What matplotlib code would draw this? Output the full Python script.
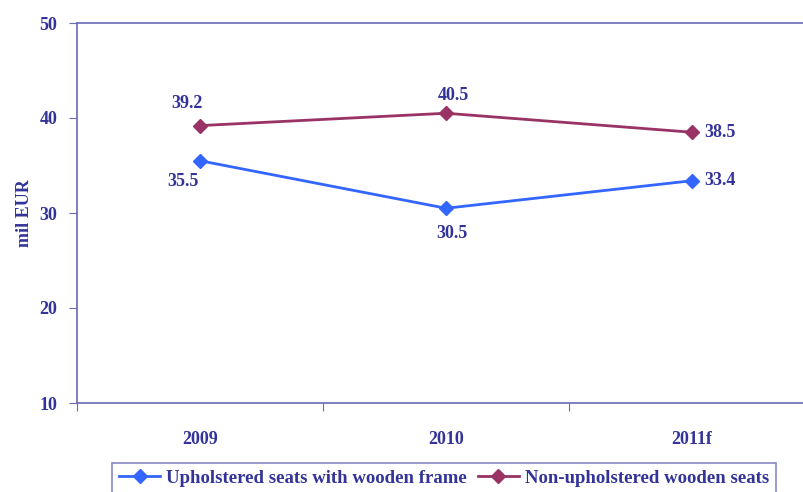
import matplotlib
matplotlib.use("Agg")
import matplotlib.pyplot as plt

categories = ["2009", "2010", "2011f"]
upholstered = [35.5, 30.5, 33.4]
non_upholstered = [39.2, 40.5, 38.5]
series_names = ["Upholstered seats with wooden frame", "Non-upholstered wooden seats"]

TXT = "#333399"
AX = "#6a6ab8"
plt.rcParams['font.family'] = ['Liberation Serif', 'DejaVu Serif']

fig = plt.figure(figsize=(8.04, 4.92), dpi=100)
ax = fig.add_axes([77/804, 1-403/492, (815-77)/804, 380/492])

x = [0.5, 1.5, 2.5]
ax.plot(x, upholstered, color="#3366ff", lw=2, marker="D", ms=7, label=series_names[0])
ax.plot(x, non_upholstered, color="#993366", lw=2, marker="D", ms=7, label=series_names[1])

ax.set_xlim(0, 3)
ax.set_ylim(10, 50)
ax.set_yticks([10, 20, 30, 40, 50])
ax.set_xticks([0, 1, 2, 3])
ax.set_xticklabels([])
ax.set_xticks(x, minor=True)
ax.set_xticklabels(categories, minor=True)
ax.tick_params(axis='x', which='minor', length=0, pad=20, labelsize=13, labelcolor=TXT)
ax.tick_params(axis='x', which='major', length=6, color=AX, direction='out')
ax.tick_params(axis='y', length=6, color=AX, direction='out', labelsize=13, labelcolor=TXT, pad=8)
for lab in ax.get_xticklabels(minor=True) + ax.get_yticklabels():
    lab.set_fontweight('bold')

ax.spines['right'].set_visible(False)
for s in ['left', 'bottom', 'top']:
    ax.spines[s].set_color(AX)
    ax.spines[s].set_linewidth(1.2)

ax.set_ylabel("mil EUR", fontsize=13, fontweight='bold', color=TXT, labelpad=5)

kw = dict(fontsize=13, fontweight='bold', color=TXT)
offs_u = [(-12, -15, 'center'), (4, -18, 'center'), (9, 0, 'left')]
offs_n = [(-9, 16, 'center'), (5, 13, 'center'), (9, 0, 'left')]
for xi, v, (dx, dy, ha) in zip(x, upholstered, offs_u):
    ax.annotate(f"{v:.1f}", (xi, v), xytext=(dx, dy), textcoords='offset points', ha=ha, va='center', **kw)
for xi, v, (dx, dy, ha) in zip(x, non_upholstered, offs_n):
    ax.annotate(f"{v:.1f}", (xi, v), xytext=(dx, dy), textcoords='offset points', ha=ha, va='center', **kw)

leg = fig.legend(loc='upper center', bbox_to_anchor=(444/804, 1-463/492), ncol=2, frameon=True,
                 fancybox=False, edgecolor=AX, handlelength=2.2, columnspacing=0.6,
                 handletextpad=0.3, borderpad=0.35, borderaxespad=0,
                 prop={'weight': 'bold', 'size': 13.5})
leg.get_frame().set_linewidth(1.2)
for t in leg.get_texts():
    t.set_color(TXT)

fig.savefig("out.png", dpi=100)
